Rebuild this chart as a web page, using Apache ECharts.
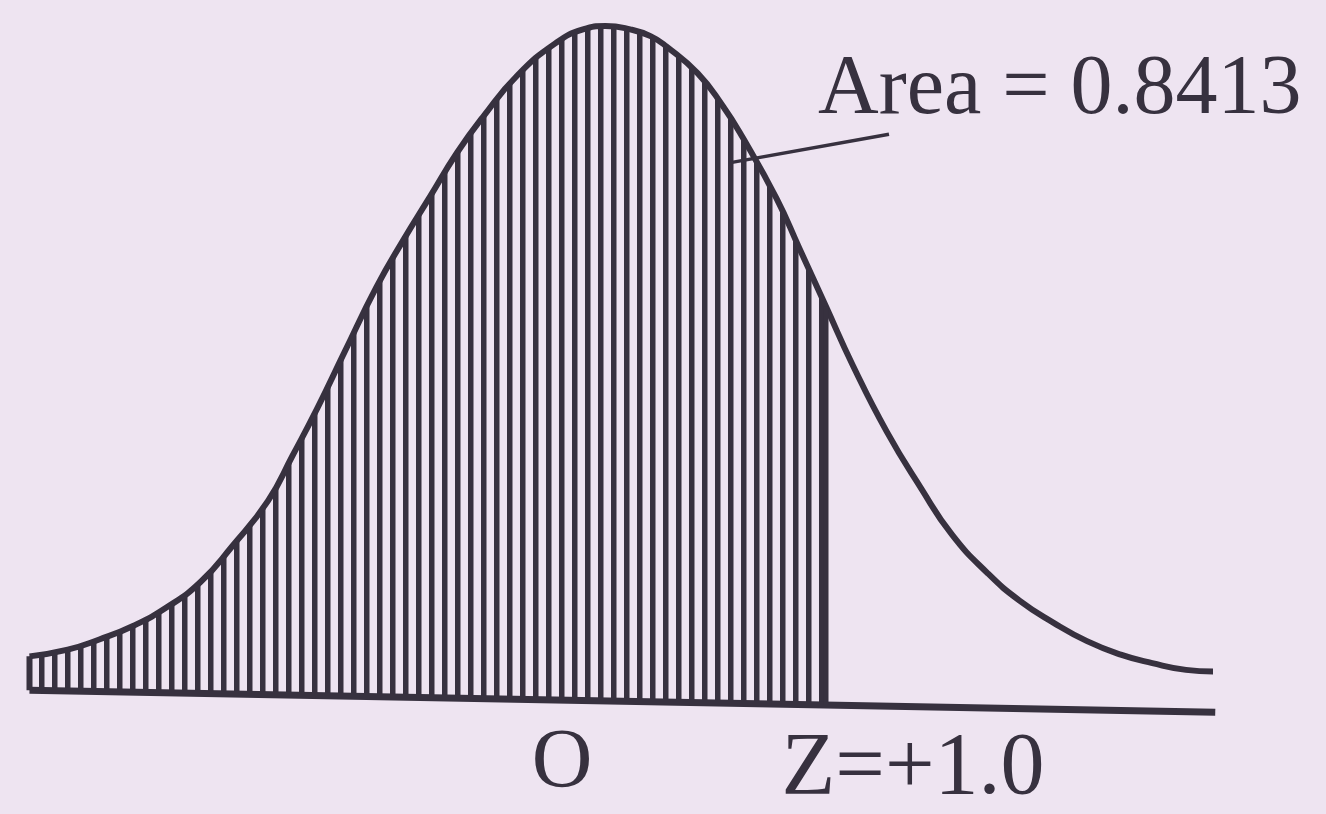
<!DOCTYPE html>
<html>
<head>
<meta charset="utf-8">
<script src="https://cdn.jsdelivr.net/npm/echarts@6/dist/echarts.min.js"></script>
<style>
html,body{margin:0;padding:0;background:#eee4f1;}
#c{width:1326px;height:814px;}
</style>
</head>
<body>
<div id="c"></div>
<script>
// ---- data (z on x, density on y) ----
const curveZ = [-2.54, -2.37, -2.23, -2.08, -1.93, -1.78, -1.64, -1.48, -1.37, -1.26,
                -1.14, -1.00, -0.88, -0.76, -0.64, -0.52, -0.37, -0.20, -0.08, 0.02,
                 0.13, 0.22, 0.29, 0.43, 0.54, 0.63, 0.78, 0.88, 1.00, 1.12,
                 1.27, 1.42, 1.56, 1.72, 1.86, 2.01, 2.16, 2.31, 2.45, 2.60, 2.72];
const curveDensity = [0.027, 0.031, 0.037, 0.045, 0.056, 0.071, 0.092, 0.119, 0.146, 0.174,
                      0.207, 0.245, 0.273, 0.299, 0.325, 0.347, 0.371, 0.390, 0.398, 0.400,
                      0.398, 0.394, 0.388, 0.372, 0.353, 0.334, 0.298, 0.269, 0.234, 0.199,
                      0.160, 0.127, 0.099, 0.076, 0.060, 0.047, 0.036, 0.028, 0.023, 0.019, 0.018];
const baselineZ = [-2.54, 2.73];
const baselineDensity = [0.007, -0.006];
const shadeUpToZ = 1.0;
const leaderZ = [0.57, 1.28];
const leaderDensity = [0.319, 0.336];
const areaLabel = 'Area = 0.8413';
const meanLabel = 'O';
const zLabel = 'Z=+1.0';

const INK = '#37313f';
function baseAt(z) {
  const t = (z - baselineZ[0]) / (baselineZ[1] - baselineZ[0]);
  return baselineDensity[0] + t * (baselineDensity[1] - baselineDensity[0]);
}
const curvePts = curveZ.map((z, i) => [z, curveDensity[i]]);
const shadedPts = curvePts.filter(p => p[0] <= shadeUpToZ + 1e-9);
const shadeTop = shadedPts[shadedPts.length - 1];

// hatch tile: vertical strokes
const tile = document.createElement('canvas');
tile.width = 13; tile.height = 8;
const g = tile.getContext('2d');
g.fillStyle = INK;
g.fillRect(0, 0, 5.5, 8);

const chart = echarts.init(document.getElementById('c'), null, {renderer: 'canvas'});
chart.setOption({
  backgroundColor: '#eee4f1',
  animation: false,
  grid: {left: 16, right: 95, top: 26, bottom: 27.5},
  xAxis: {type: 'value', min: -2.6, max: 2.8, show: false},
  yAxis: {type: 'value', min: -0.05, max: 0.4, show: false},
  series: [
    {
      type: 'custom',
      coordinateSystem: 'cartesian2d',
      data: [[0, 0]],
      z: 1,
      silent: true,
      clip: false,
      renderItem: function (params, api) {
        const pts = shadedPts.map(p => api.coord(p));
        pts.push(api.coord([shadeTop[0], baseAt(shadeTop[0])]));
        pts.push(api.coord([shadedPts[0][0], baseAt(shadedPts[0][0])]));
        return {
          type: 'polygon',
          shape: {points: pts},
          style: {fill: {type: 'pattern', image: tile, repeat: 'repeat'}, stroke: null}
        };
      }
    },
    {
      type: 'line', data: curvePts, smooth: 0.5, showSymbol: false, z: 3, silent: true,
      lineStyle: {color: INK, width: 6}
    },
    {
      type: 'line', data: baselineZ.map((z, i) => [z, baselineDensity[i]]), showSymbol: false, z: 3, silent: true,
      lineStyle: {color: INK, width: 7}
    },
    {
      type: 'line', data: [[shadeTop[0], baseAt(shadeTop[0])], shadeTop], showSymbol: false, z: 3, silent: true,
      lineStyle: {color: INK, width: 5}
    },
    {
      type: 'line', data: [[shadedPts[0][0], baseAt(shadedPts[0][0])], shadedPts[0]], showSymbol: false, z: 3, silent: true,
      lineStyle: {color: INK, width: 6}
    },
    {
      type: 'line', data: leaderZ.map((z, i) => [z, leaderDensity[i]]), showSymbol: false, z: 4, silent: true,
      lineStyle: {color: INK, width: 3.5}
    }
  ],
  graphic: [
    {type: 'text', x: 818, y: 91, z: 10,
     style: {text: areaLabel, font: '84px "Liberation Serif"', fill: INK, align: 'left', verticalAlign: 'middle'}},
    {type: 'text', x: 562, y: 765, z: 10,
     style: {text: meanLabel, font: '84px "Liberation Serif"', fill: INK, align: 'center', verticalAlign: 'middle'}},
    {type: 'text', x: 913, y: 770, z: 10,
     style: {text: zLabel, font: '88px "Liberation Serif"', fill: INK, align: 'center', verticalAlign: 'middle'}}
  ]
});
</script>
</body>
</html>
